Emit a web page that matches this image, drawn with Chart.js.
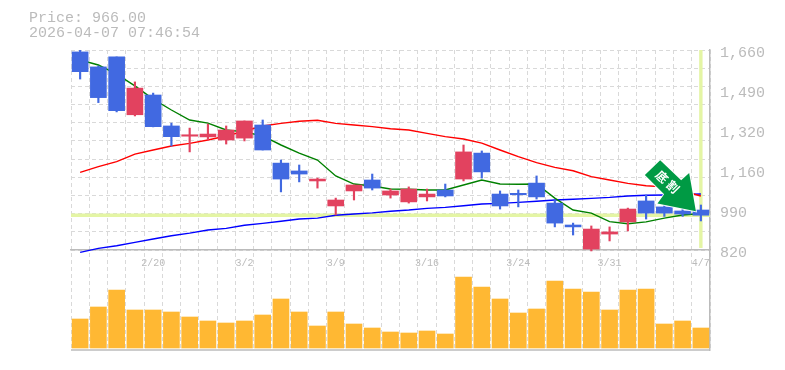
<!DOCTYPE html>
<html><head><meta charset="utf-8">
<style>html,body{margin:0;padding:0;background:#fff}canvas{display:block}</style>
<script src="https://cdn.jsdelivr.net/npm/chart.js@4"></script></head>
<body><canvas id="c" width="785" height="370"></canvas>
<script>
const dates=["2/16","2/17","2/18","2/19","2/20","2/24","2/25","2/26","2/27","3/2","3/3","3/4","3/5","3/6","3/9","3/10","3/11","3/12","3/13","3/16","3/17","3/18","3/19","3/23","3/24","3/25","3/26","3/27","3/30","3/31","4/1","4/2","4/3","4/6","4/7"];
const opens=[1652,1589,1631,1388,1471,1341,1299,1295,1282,1290,1345,1185,1152,1110,1005,1068,1114,1051,1022,1043,1072,1118,1227,1055,1057,1101,1017,925,824,887,938,1026,1001,984,988];
const closes=[1569,1460,1405,1500,1338,1296,1303,1307,1324,1362,1240,1118,1139,1118,1030,1093,1080,1068,1076,1055,1047,1232,1148,1005,1053,1043,933,917,908,896,992,975,975,971,966];
const highs=[1660,1593,1631,1526,1479,1353,1332,1349,1341,1362,1366,1198,1177,1122,1038,1093,1139,1076,1085,1076,1097,1261,1236,1068,1072,1131,1030,933,921,917,996,1051,1009,992,1009];
const lows=[1538,1439,1400,1383,1337,1257,1232,1282,1265,1278,1240,1064,1106,1080,967,1030,1072,1038,1017,1026,1043,1110,1122,992,1001,1034,917,883,816,858,900,950,961,961,942];
const volumes=[290,410,580,380,380,360,310,270,250,270,330,490,360,220,360,240,200,160,150,170,140,710,610,490,350,390,670,590,560,380,580,590,240,270,200];
const maShort=[1618,1597,1559,1509,1454,1408,1366,1353,1324,1316,1299,1261,1227,1198,1131,1097,1089,1076,1075,1072,1072,1093,1114,1097,1096,1097,1038,988,975,939,930,938,954,967,973];
const maMid=[1146,1170,1191,1223,1240,1257,1268,1282,1299,1320,1341,1352,1361,1365,1352,1345,1338,1329,1324,1310,1296,1286,1269,1240,1212,1187,1167,1153,1128,1114,1100,1090,1085,1068,1047];
const maLong=[810,827,838,852,866,880,891,904,911,924,932,941,950,954,966,971,976,983,988,995,999,1006,1013,1016,1020,1025,1030,1033,1037,1041,1047,1050,1051,1053,1055];
const priceTicks=[1660,1492,1324,1156,988,820];
const priceLabels=["1,660","1,490","1,320","1,160","990","820"];
const gridTicks=[1660,1584,1507,1431,1355,1278,1202,1125,1049,973,896,820];
const labelledDates=["2/20","3/2","3/9","3/16","3/24","3/31","4/7"];
const currentPrice=966;
const titleLines=["Price: 966.00","2026-04-07 07:46:54"];
const signalText=["底","割"];

const UP="#e2425f",DOWN="#4169e1",GREY="#bbbbbb",HL="#e4f5a4",GRID="#d9d9d9";
const MONO='"Liberation Mono"';
const candleColors=closes.map((c,i)=>c>=opens[i]?UP:DOWN);
const minBody=(a,b)=>Math.abs(a-b)<8?[Math.min(a,b)-1,Math.max(a,b)+1]:[Math.min(a,b),Math.max(a,b)];

const decor={
 id:"decor",
 beforeDatasetsDraw(ch){
  const {ctx,chartArea:a,scales:s}=ch;
  ctx.save();
  ctx.strokeStyle=HL;ctx.lineWidth=3.4;
  const y=s.y.getPixelForValue(currentPrice);
  ctx.beginPath();ctx.moveTo(a.left,y);ctx.lineTo(a.right,y);ctx.stroke();
  const x=s.x.getPixelForValue(dates.length-1);
  ctx.beginPath();ctx.moveTo(x,a.top);ctx.lineTo(x,s.y.getPixelForValue(priceTicks[5])-2);ctx.stroke();
  ctx.strokeStyle=GREY;ctx.lineWidth=1.5;
  ctx.beginPath();ctx.moveTo(a.left,a.bottom);ctx.lineTo(a.right,a.bottom);ctx.stroke();
  ctx.restore();
 },
 afterDatasetsDraw(ch){
  const {ctx,scales:s}=ch;
  const tx=s.x.getPixelForValue(dates.length-1)-5, ty=s.y.getPixelForValue(currentPrice)-4;
  const shape=[[0,0],[-6.7,-38.3],[-14.7,-31],[-35.7,-51],[-51,-36.3],[-31.7,-17],[-38.4,-7.7]];
  ctx.save();
  ctx.beginPath();
  shape.forEach((p,i)=>i?ctx.lineTo(tx+p[0],ty+p[1]):ctx.moveTo(tx+p[0],ty+p[1]));
  ctx.closePath();
  ctx.strokeStyle="rgba(255,255,255,0.9)";ctx.lineWidth=2;ctx.stroke();
  ctx.fillStyle="#009a44";ctx.fill();
  ctx.fillStyle="#fff";ctx.font='bold 12px "Noto Sans CJK JP"';ctx.textAlign="center";ctx.textBaseline="middle";
  [[-34,-34.5],[-23,-24.5]].forEach((p,i)=>{
   ctx.save();ctx.translate(tx+p[0],ty+p[1]);ctx.rotate(Math.PI/4);ctx.fillText(signalText[i],0,0);ctx.restore();
  });
  ctx.restore();
 },
 afterDraw(ch){
  const {ctx}=ch;
  ctx.save();ctx.fillStyle=GREY;ctx.font="15px "+MONO;ctx.textAlign="left";ctx.textBaseline="middle";
  ctx.fillText(titleLines[0],29,18);ctx.fillText(titleLines[1],29,33);
  ctx.restore();
 }
};

new Chart(document.getElementById("c"),{
 type:"bar",
 plugins:[decor],
 data:{labels:dates,datasets:[
  {label:"Volume",data:volumes,yAxisID:"vol",backgroundColor:"#ffb833",barThickness:16,grouped:false,order:6},
  {type:"line",label:"MA long",data:maLong,yAxisID:"y",borderColor:"#0000ff",borderWidth:1.4,pointRadius:0,tension:0,order:5},
  {type:"line",label:"MA mid",data:maMid,yAxisID:"y",borderColor:"#ff0000",borderWidth:1.4,pointRadius:0,tension:0,order:4},
  {type:"line",label:"MA short",data:maShort,yAxisID:"y",borderColor:"#008000",borderWidth:1.4,pointRadius:0,tension:0,order:3},
  {label:"Range",data:lows.map((l,i)=>[l,highs[i]]),yAxisID:"y",backgroundColor:candleColors,barThickness:1.5,grouped:false,order:2},
  {label:"Body",data:opens.map((o,i)=>minBody(o,closes[i])),yAxisID:"y",backgroundColor:candleColors,barThickness:16,grouped:false,order:1}
 ]},
 options:{
  responsive:false,animation:false,
  layout:{padding:{left:71,top:50,bottom:20,right:0}},
  plugins:{legend:{display:false},title:{display:false},tooltip:{enabled:false}},
  scales:{
   x:{
    type:"category",offset:true,position:{y:priceTicks[5]},
    afterFit(sc){sc.height=0;},
    grid:{offset:true,color:GRID,drawTicks:false,lineWidth:1},
    border:{color:GREY,width:1.5,dash:[4,3],display:true},
    ticks:{autoSkip:false,maxRotation:0,minRotation:0,padding:7,color:GREY,font:{family:MONO,size:10},
     callback(v){const l=dates[v];return labelledDates.includes(l)?l:"";}}
   },
   y:{
    position:"right",min:400,max:1660,
    afterFit(sc){sc.width=75;},
    afterBuildTicks(sc){sc.ticks=priceTicks.map(v=>({value:v}));},
    grid:{display:false,drawTicks:false},
    border:{color:GREY,width:1.5},
    ticks:{padding:10,labelOffset:3,color:GREY,font:{family:MONO,size:15},
     callback(v){return priceLabels[priceTicks.indexOf(v)];}}
   },
   yGrid:{
    position:"left",min:400,max:1660,
    afterFit(sc){sc.width=0;},
    afterBuildTicks(sc){sc.ticks=gridTicks.map(v=>({value:v}));},
    grid:{color:GRID,drawTicks:false,lineWidth:1},
    border:{display:false,dash:[4,3]},
    ticks:{display:false}
   },
   vol:{display:false,min:-20,max:2980}
  }
 }
});
</script></body></html>
